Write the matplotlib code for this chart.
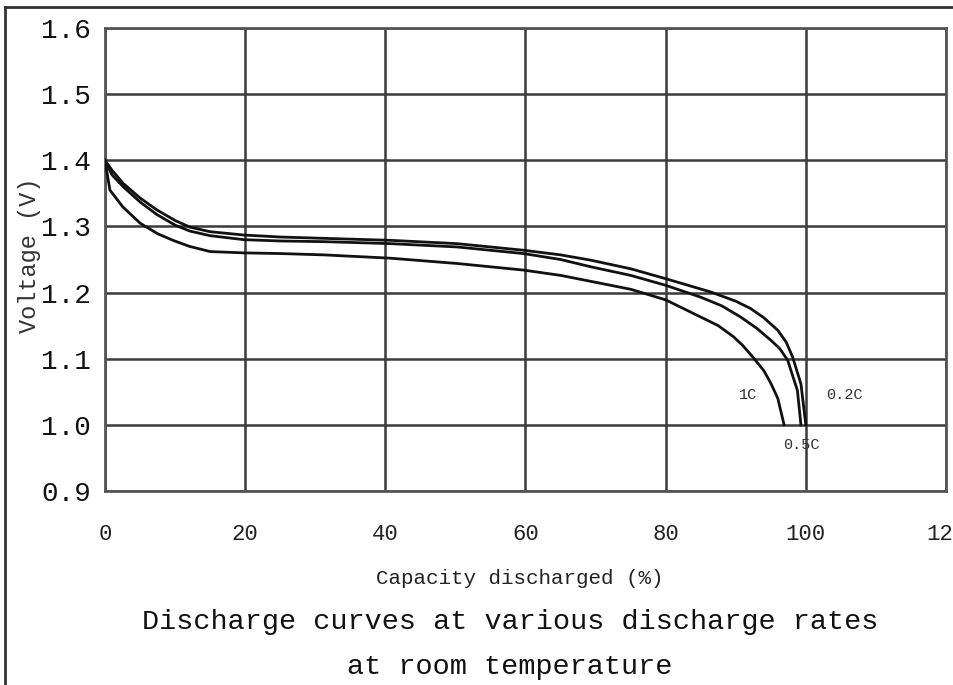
import matplotlib
matplotlib.use("Agg")
import matplotlib.pyplot as plt
from matplotlib.lines import Line2D

# Data
x_02c = [0, 1, 2.6, 5, 7.4, 10, 12.1, 15, 19.8, 25, 31.2, 40.7, 50.2, 59.7, 65, 69.3, 75, 80, 86.4, 90, 92.1, 94, 96, 97.2, 98.1, 99.3, 100]
y_02c = [1.40, 1.385, 1.365, 1.343, 1.325, 1.309, 1.299, 1.292, 1.287, 1.284, 1.282, 1.279, 1.274, 1.264, 1.257, 1.249, 1.236, 1.221, 1.201, 1.187, 1.176, 1.162, 1.143, 1.125, 1.103, 1.062, 1.00]

x_05c = [0, 1, 2.6, 5, 7.4, 10, 12.1, 15, 19.8, 25, 31.2, 40.7, 50.2, 59.7, 65, 69.3, 75, 80, 85, 88, 90.7, 93, 95, 96.3, 97.4, 98.8, 99.3]
y_05c = [1.40, 1.378, 1.36, 1.337, 1.318, 1.302, 1.293, 1.286, 1.280, 1.278, 1.277, 1.274, 1.269, 1.259, 1.250, 1.239, 1.226, 1.211, 1.193, 1.180, 1.163, 1.146, 1.128, 1.115, 1.098, 1.052, 1.00]

x_1c = [0, 0.7, 2.5, 5, 7.5, 9.7, 12, 15, 19.8, 25, 31.2, 40.7, 50.2, 59.7, 65, 69.3, 75, 80, 85, 87.5, 89.7, 91, 92.4, 94, 95, 96, 96.9]
y_1c = [1.40, 1.355, 1.33, 1.305, 1.289, 1.279, 1.270, 1.262, 1.260, 1.259, 1.257, 1.252, 1.244, 1.234, 1.226, 1.217, 1.205, 1.189, 1.163, 1.150, 1.133, 1.120, 1.103, 1.082, 1.063, 1.04, 1.00]

x_ticks = [0, 20, 40, 60, 80, 100, 120]
y_ticks = [0.9, 1.0, 1.1, 1.2, 1.3, 1.4, 1.5, 1.6]
y_tick_labels = ["0.9", "1.0", "1.1", "1.2", "1.3", "1.4", "1.5", "1.6"]

labels = ["1C", "0.2C", "0.5C"]
label_pos_x = [91.7, 105.5, 99.3]
label_pos_y = [1.045, 1.045, 0.97]

FONT = ["Liberation Mono", "DejaVu Sans Mono"]
GRID = "#3a3a3a"

fig = plt.figure(figsize=(9.54, 6.85), dpi=100)
ax = fig.add_axes([105/954, 1 - 491/685, (946 - 105)/954, (491 - 28)/685])

for xs, ys in [(x_02c, y_02c), (x_05c, y_05c), (x_1c, y_1c)]:
    ax.plot(xs, ys, color="#111111", lw=2.0, zorder=3)

ax.set_xlim(0, 120)
ax.set_ylim(0.9, 1.6)
ax.set_xticks(x_ticks)
ax.set_yticks(y_ticks)
ax.set_yticklabels(y_tick_labels)
ax.grid(True, color=GRID, lw=1.8)
ax.tick_params(length=0)
for lab in ax.get_xticklabels():
    lab.set_fontfamily(FONT)
    lab.set_fontsize(16)
    lab.set_color("#222222")
for lab in ax.get_yticklabels():
    lab.set_fontfamily(FONT)
    lab.set_fontsize(20)
    lab.set_color("#111111")
ax.tick_params(axis="x", pad=24)
ax.tick_params(axis="y", pad=10)
for s in ax.spines.values():
    s.set_color("#555555")
    s.set_linewidth(2.0)

for t, lx, ly in zip(labels, label_pos_x, label_pos_y):
    ax.text(lx, ly, t, fontsize=11, family=FONT, color="#333333", ha="center", va="center")

ax.set_ylabel("Voltage (V)", fontsize=17, family=FONT, color="#333333")
ax.yaxis.set_label_coords(-0.076, 0.51)

fig.text(520/954, 1 - 578/685, "Capacity discharged (%)", fontsize=15, family=FONT,
         ha="center", va="center", color="#222222")
fig.text(510/954, 1 - 622/685, "Discharge curves at various discharge rates", fontsize=20.5,
         family=FONT, ha="center", va="center", color="#111111")
fig.text(510/954, 1 - 667/685, "at room temperature", fontsize=20.5,
         family=FONT, ha="center", va="center", color="#111111")

# outer frame lines
fig.add_artist(Line2D([5/954, 5/954], [0, 1 - 7/685], transform=fig.transFigure, color="#333333", lw=2))
fig.add_artist(Line2D([5/954, 1], [1 - 7/685, 1 - 7/685], transform=fig.transFigure, color="#333333", lw=2))

fig.savefig("out.png", dpi=100)
